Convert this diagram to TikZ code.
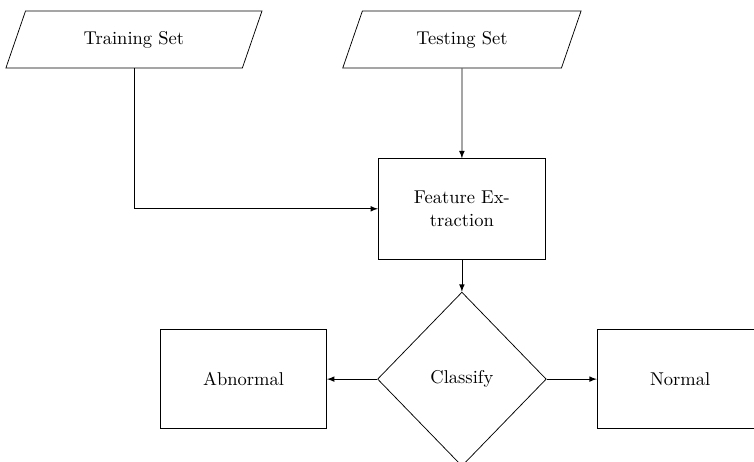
\documentclass[tikz,border=0pt]{standalone}
\usepackage{tikz}
\usetikzlibrary{shapes.geometric, arrows}
\tikzstyle{dataset} = [trapezium, trapezium left angle=71, trapezium right angle=109, text height=7pt, text depth=2pt, inner xsep=0pt, inner ysep=10.9pt, align=center, draw=black]
\tikzstyle{process} = [rectangle, minimum width=3.17cm, minimum height=1.9cm, text centered, draw=black, align=center]
\tikzstyle{decision} = [diamond, minimum width=3.2cm, minimum height=3.3cm, text centered, draw=black, inner sep=0pt]
\tikzstyle{arrow} = [->,>=latex]

\begin{document}
\begin{tikzpicture}[node distance=2cm]
            \useasboundingbox (0,0) rectangle (14.3,-8.762);
            \node(train)[dataset,text width=117pt] at (2.54,-0.75){Training Set};
            \node(test)[dataset,text width=107.4pt,right of=train,xshift=4.22cm]{Testing Set};
            \node(feature)[process,below of=test,yshift=-1.21cm]{Feature Ex-\\traction};
            \node(classify)[decision,below of=feature,yshift=-1.23cm]{Classify};
            \node(abnormal)[process,minimum width=3.15cm,minimum height=1.88cm,left of=classify,xshift=-2.14cm]{Abnormal};
            \node(normal)[process,minimum width=3.15cm,minimum height=1.88cm,right of=classify,xshift=2.14cm]{Normal};
            \draw[arrow](train)|-(feature);
            \draw[arrow](test)--(feature);
            \draw[arrow](feature)--(classify);
            \draw[arrow](classify)--(abnormal);
            \draw[arrow](classify)--(normal);
        \end{tikzpicture}
\end{document}
